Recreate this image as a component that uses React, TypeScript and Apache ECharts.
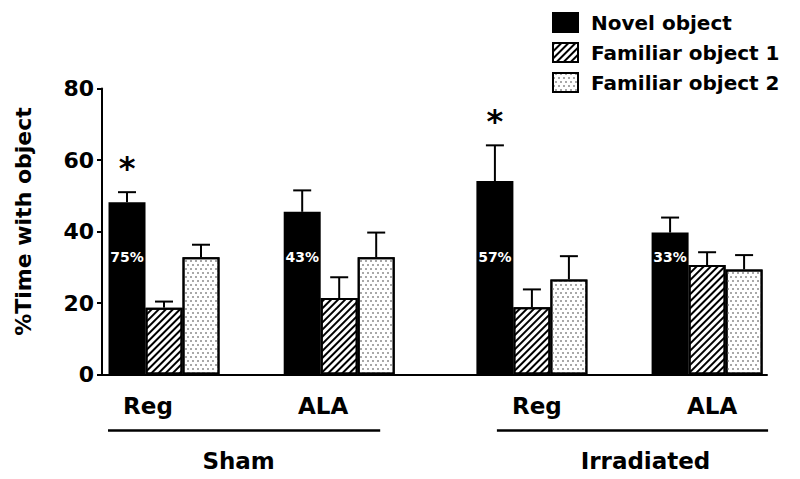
import React, { useEffect, useRef } from "react";
import * as echarts from "echarts";

// ---- data ----
const conditionNames = ["Sham", "Irradiated"];
const groupLabels = ["Reg", "ALA", "Reg", "ALA"];
const groupCondition = [0, 0, 1, 1];
const seriesNames = ["Novel object", "Familiar object 1", "Familiar object 2"];
const novelMeans = [48.2, 45.5, 54.1, 39.7];
const novelErr = [2.8, 6.0, 10.0, 4.2];
const fam1Means = [18.7, 21.4, 18.8, 30.6];
const fam1Err = [1.7, 5.8, 5.0, 3.6];
const fam2Means = [32.8, 32.8, 26.6, 29.4];
const fam2Err = [3.5, 6.9, 6.5, 4.0];
const novelPercent = ["75%", "43%", "57%", "33%"];
const significant = [true, false, true, false];
const percentLabelLevel = 33;
const yTicks = [0, 20, 40, 60, 80];

// ---- layout / style ----
const FONT = '"DejaVu Sans", "Liberation Sans", Arial, sans-serif';
const BAR_W = 37;
const COND_GAP = 0.1;
const pos = (i: number) => i + groupCondition[i] * COND_GAP;

const meansList = [novelMeans, fam1Means, fam2Means];
const errList = [novelErr, fam1Err, fam2Err];

export default function App() {
  const ref = useRef<HTMLDivElement>(null);
  useEffect(() => {
    if (!ref.current) return;
    const chart = echarts.init(ref.current, null, { renderer: "svg" });

    const itemStyles: any[] = [
      { color: "#000", borderColor: "#000", borderWidth: 2 },
      {
        color: "#fff",
        borderColor: "#000",
        borderWidth: 2,
        decal: {
          symbol: "rect",
          symbolSize: 1,
          color: "#000",
          backgroundColor: "#fff",
          dashArrayX: [1, 0],
          dashArrayY: [2, 2.5],
          rotation: -Math.PI / 4,
        },
      },
      {
        color: "#fff",
        borderColor: "#000",
        borderWidth: 2,
        decal: {
          symbol: "rect",
          symbolSize: 1,
          color: "#a8a8a8",
          backgroundColor: "#fff",
          dashArrayX: [[1.6, 2.4], [0, 2, 1.6, 0.4]],
          dashArrayY: [1.2, 2],
          rotation: 0,
        },
      },
    ];

    const barSeries = seriesNames.map((name, s) => ({
      name,
      type: "bar",
      barWidth: BAR_W,
      barGap: "0%",
      itemStyle: itemStyles[s],
      data: meansList[s].map((v, i) => [pos(i), v]),
      z: 2,
    }));

    const errSeries = seriesNames.map((name, s) => ({
      name: name + " SEM",
      type: "custom",
      z: 3,
      clip: false,
      encode: { x: 0, y: [1, 2] },
      data: meansList[s].map((v, i) => [pos(i), v, v + errList[s][i], i]),
      renderItem: (params: any, api: any) => {
        const x = api.value(0);
        const lo = api.coord([x, api.value(1)]);
        const hi = api.coord([x, api.value(2)]);
        const idx = api.value(3);
        const cx = lo[0] + (s - 1) * BAR_W;
        const st = { stroke: "#000", lineWidth: 2 };
        const children: any[] = [
          { type: "line", shape: { x1: cx, y1: lo[1], x2: cx, y2: hi[1] }, style: st },
          { type: "line", shape: { x1: cx - 9, y1: hi[1], x2: cx + 9, y2: hi[1] }, style: st },
        ];
        if (s === 0) {
          const py = api.coord([x, percentLabelLevel])[1];
          children.push({
            type: "text",
            style: {
              text: novelPercent[idx],
              x: cx,
              y: py,
              align: "center",
              verticalAlign: "middle",
              fill: "#fff",
              fontFamily: FONT,
              fontWeight: "bold",
              fontSize: 14,
            },
          });
          if (significant[idx]) {
            children.push({
              type: "text",
              style: {
                text: "*",
                x: cx,
                y: hi[1] - 24,
                align: "center",
                verticalAlign: "middle",
                fill: "#000",
                fontFamily: FONT,
                fontWeight: "bold",
                fontSize: 32,
              },
            });
          }
        }
        return { type: "group", children };
      },
    }));

    const groupLabelSeries = {
      name: "group labels",
      type: "custom",
      z: 3,
      clip: false,
      encode: { x: 0, y: 1 },
      data: groupLabels.map((_, i) => [pos(i), 0, i]),
      renderItem: (params: any, api: any) => {
        const idx = api.value(2);
        const p = api.coord([api.value(0), 0]);
        const off = groupCondition[idx] === 0 ? -16 : 5;
        return {
          type: "text",
          style: {
            text: groupLabels[idx],
            x: p[0] + off,
            y: p[1] + 31,
            align: "center",
            verticalAlign: "middle",
            fill: "#000",
            fontFamily: FONT,
            fontWeight: "bold",
            fontSize: 23,
          },
        };
      },
    };

    const lineOffsets = [
      [-56, 41],
      [-35, 61],
    ];
    const nameOffsets = [-13, 26];
    const conditionSeries = {
      name: "condition labels",
      type: "custom",
      z: 3,
      clip: false,
      encode: { x: [0, 1], y: 2 },
      data: conditionNames.map((_, c) => {
        const members = groupCondition
          .map((g, i) => (g === c ? i : -1))
          .filter((i) => i >= 0);
        return [pos(members[0]), pos(members[members.length - 1]), 0, c];
      }),
      renderItem: (params: any, api: any) => {
        const c = api.value(3);
        const a = api.coord([api.value(0), 0]);
        const b = api.coord([api.value(1), 0]);
        const x1 = a[0] + lineOffsets[c][0];
        const x2 = b[0] + lineOffsets[c][1];
        const ly = a[1] + 56;
        return {
          type: "group",
          children: [
            {
              type: "line",
              shape: { x1, y1: ly, x2, y2: ly },
              style: { stroke: "#000", lineWidth: 2.5 },
            },
            {
              type: "text",
              style: {
                text: conditionNames[c],
                x: (a[0] + b[0]) / 2 + nameOffsets[c],
                y: ly + 30,
                align: "center",
                verticalAlign: "middle",
                fill: "#000",
                fontFamily: FONT,
                fontWeight: "bold",
                fontSize: 23,
              },
            },
          ],
        };
      },
    };

    chart.setOption({
      animation: false,
      backgroundColor: "#fff",
      textStyle: { fontFamily: FONT },
      legend: {
        data: seriesNames,
        orient: "vertical",
        left: 552,
        top: 12,
        padding: 0,
        itemWidth: 25,
        itemHeight: 19,
        itemGap: 9,
        icon: "rect",
        textStyle: {
          fontFamily: FONT,
          fontWeight: "bold",
          fontSize: 20,
          color: "#000",
          padding: [0, 0, 0, 8],
        },
      },
      grid: { left: 102, right: 33, top: 88.5, bottom: 104.5 },
      xAxis: {
        type: "value",
        min: -0.354,
        max: 3.442,
        axisLine: { show: true, onZero: true, lineStyle: { color: "#000", width: 2 } },
        axisTick: { show: false },
        axisLabel: { show: false },
        splitLine: { show: false },
      },
      yAxis: {
        type: "value",
        min: yTicks[0],
        max: yTicks[yTicks.length - 1],
        interval: yTicks[1] - yTicks[0],
        name: "%Time with object",
        nameLocation: "middle",
        nameRotate: 90,
        nameGap: 68,
        nameTextStyle: {
          fontFamily: FONT,
          fontWeight: "bold",
          fontSize: 22,
          color: "#000",
          padding: [0, 0, 0, 20],
        },
        axisLine: { show: true, onZero: false, lineStyle: { color: "#000", width: 2 } },
        axisTick: { show: true, length: 5, lineStyle: { color: "#000", width: 2 } },
        axisLabel: {
          margin: 8,
          fontFamily: FONT,
          fontWeight: "bold",
          fontSize: 22,
          color: "#000",
        },
        splitLine: { show: false },
      },
      series: [...barSeries, ...errSeries, groupLabelSeries, conditionSeries],
    });
    return () => chart.dispose();
  }, []);
  return (
    <div
      ref={ref}
      style={{ position: "fixed", left: 0, top: 0, width: 800, height: 479 }}
    />
  );
}
